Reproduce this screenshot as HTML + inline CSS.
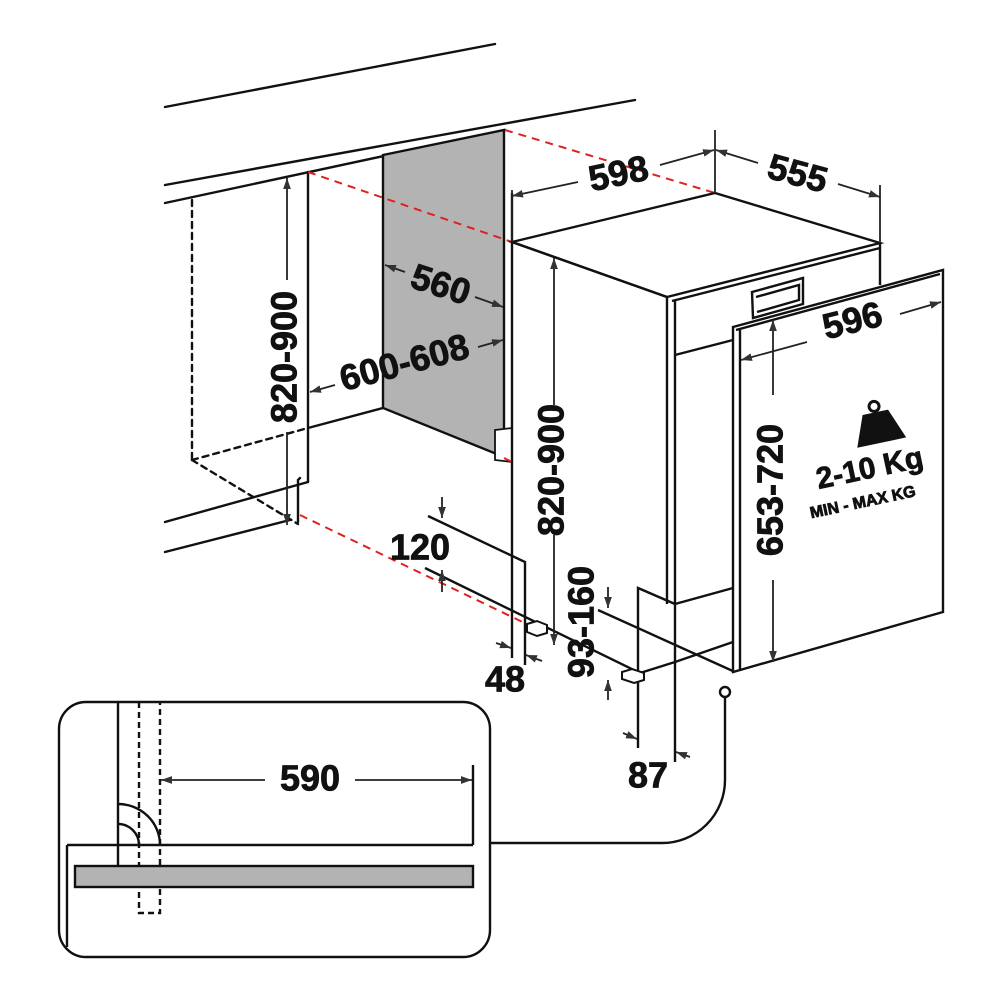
<!DOCTYPE html>
<html><head><meta charset="utf-8"><style>
html,body{margin:0;padding:0;background:#fff}
svg{display:block}
text{font-family:"Liberation Sans",sans-serif;font-weight:bold;fill:#111;stroke:#111;stroke-width:0.8}
</style></head><body>
<svg width="1000" height="1000" viewBox="0 0 1000 1000" xmlns="http://www.w3.org/2000/svg">
<defs>
<marker id="a" viewBox="0 0 10 10" refX="10" refY="5" markerWidth="11" markerHeight="11" orient="auto-start-reverse" markerUnits="userSpaceOnUse"><path d="M0,1.5 L10,5 L0,8.5 z" fill="#333"/></marker>
</defs>
<g stroke="#111" stroke-width="2.4" fill="none" stroke-linecap="round">
<line x1="165" y1="107" x2="495" y2="44"/>
<line x1="165" y1="185" x2="635" y2="100"/>
<line x1="165" y1="203" x2="505" y2="130"/>
<line x1="308" y1="172" x2="308" y2="482"/>
<line x1="165" y1="522" x2="308" y2="482"/>
<line x1="165" y1="552" x2="290" y2="520"/>
<line x1="308" y1="428" x2="383" y2="408"/>
<line x1="192" y1="200" x2="192" y2="460" stroke-dasharray="6,5"/>
<line x1="192" y1="460" x2="308" y2="428" stroke-dasharray="6,5"/>
<line x1="192" y1="460" x2="298" y2="524" stroke-dasharray="6,5"/>
<polyline points="298,522 298,480 300,478"/>
</g>
<polygon points="383,155 504,130 504,457 383,408" fill="#b3b3b3" stroke="#111" stroke-width="2.4"/>
<polygon points="495,430 512,428 512,462 495,460" fill="#fff" stroke="#111" stroke-width="1.8"/>
<g stroke="#111" stroke-width="2.4" fill="none">
<line x1="512" y1="193" x2="512" y2="658"/>
<g stroke="#d22" stroke-dasharray="8,6" stroke-width="2">
<line x1="308" y1="172" x2="512" y2="242"/>
<line x1="505" y1="130" x2="715" y2="193"/>
<line x1="300" y1="515" x2="535" y2="628"/>
<line x1="504" y1="458" x2="512" y2="462"/>
</g>
<polygon points="512,242 715,193 880,243 667,297" fill="#fff"/>
<line x1="672" y1="301" x2="880" y2="248"/>
<line x1="880" y1="243" x2="880" y2="285"/>
<line x1="667" y1="297" x2="667" y2="604"/>
<line x1="675" y1="300" x2="675" y2="604"/>
<line x1="512" y1="242" x2="667" y2="297"/>
<polygon points="752,292 803,278 803,304 753,318"/>
<polyline points="756,297 799,285 799,300 757,312"/>
<line x1="675" y1="355" x2="733" y2="340"/>
<line x1="675" y1="604" x2="733" y2="588"/>
<line x1="675" y1="662" x2="733" y2="642"/>
<polyline points="638,748 638,588 675,604"/>
<line x1="675" y1="604" x2="675" y2="762"/>
<line x1="640" y1="673" x2="675" y2="662"/>
<polyline points="428,516 525,562 525,665"/>
<line x1="425" y1="568" x2="640" y2="673"/>
<line x1="598" y1="610" x2="735" y2="672"/>
<polygon points="733,327 943,270 943,612 733,672" fill="#fff"/>
<line x1="740" y1="330" x2="740" y2="670"/>
<line x1="736" y1="330" x2="940" y2="274"/>
</g>
<g stroke="#111" stroke-width="2" fill="#fff">
<path d="M527,624 l10,-3 l10,4 l0,8 l-10,3 l-10,-4 z"/>
<path d="M622,672 l10,-3 l12,4 l0,7 l-10,3 l-12,-4 z"/>
</g>
<g stroke="#222" stroke-width="1.8" fill="none">
<line x1="287" y1="178" x2="287" y2="280" marker-start="url(#a)"/>
<line x1="287" y1="432" x2="287" y2="525" marker-end="url(#a)"/>
<line x1="405" y1="272" x2="385" y2="265" marker-end="url(#a)"/>
<line x1="475" y1="297" x2="503" y2="307" marker-end="url(#a)"/>
<line x1="335" y1="385" x2="310" y2="392" marker-end="url(#a)"/>
<line x1="478" y1="347" x2="503" y2="340" marker-end="url(#a)"/>
<line x1="512" y1="190" x2="512" y2="242"/>
<line x1="715" y1="130" x2="715" y2="193"/>
<line x1="880" y1="185" x2="880" y2="243"/>
<line x1="578" y1="182" x2="512" y2="196" marker-end="url(#a)"/>
<line x1="660" y1="165" x2="714" y2="150" marker-end="url(#a)"/>
<line x1="758" y1="163" x2="716" y2="150" marker-end="url(#a)"/>
<line x1="838" y1="184" x2="880" y2="197" marker-end="url(#a)"/>
<line x1="554" y1="405" x2="554" y2="258" marker-end="url(#a)"/>
<line x1="554" y1="535" x2="554" y2="645" marker-end="url(#a)"/>
<line x1="807" y1="342" x2="741" y2="360" marker-end="url(#a)"/>
<line x1="900" y1="314" x2="941" y2="302" marker-end="url(#a)"/>
<line x1="773" y1="395" x2="773" y2="320" marker-end="url(#a)"/>
<line x1="773" y1="580" x2="773" y2="662" marker-end="url(#a)"/>
<line x1="442" y1="497" x2="442" y2="518" marker-end="url(#a)"/>
<line x1="442" y1="592" x2="442" y2="570" marker-end="url(#a)"/>
<line x1="496" y1="643" x2="511" y2="648" marker-end="url(#a)"/>
<line x1="542" y1="661" x2="526" y2="655" marker-end="url(#a)"/>
<line x1="608" y1="587" x2="608" y2="608" marker-end="url(#a)"/>
<line x1="608" y1="700" x2="608" y2="680" marker-end="url(#a)"/>
<line x1="623" y1="733" x2="637" y2="739" marker-end="url(#a)"/>
<line x1="690" y1="757" x2="676" y2="752" marker-end="url(#a)"/>
</g>
<text x="287" y="357" font-size="36" text-anchor="middle" transform="rotate(-90 287 357)" dominant-baseline="middle">820-900</text>
<text x="440" y="287" font-size="36" text-anchor="middle" dominant-baseline="middle" transform="rotate(18 440 287)">560</text>
<text x="405" y="365" font-size="36" text-anchor="middle" dominant-baseline="middle" transform="rotate(-15 405 365)">600-608</text>
<text x="619" y="176" font-size="36" text-anchor="middle" dominant-baseline="middle" transform="rotate(-12 619 176)">598</text>
<text x="797" y="176" font-size="36" text-anchor="middle" dominant-baseline="middle" transform="rotate(15 797 176)">555</text>
<text x="554" y="470" font-size="36" text-anchor="middle" dominant-baseline="middle" transform="rotate(-90 554 470)">820-900</text>
<text x="853" y="323" font-size="36" text-anchor="middle" dominant-baseline="middle" transform="rotate(-14 853 323)">596</text>
<text x="773" y="490" font-size="36" text-anchor="middle" dominant-baseline="middle" transform="rotate(-90 773 490)">653-720</text>
<text x="870" y="470" font-size="30" text-anchor="middle" dominant-baseline="middle" transform="rotate(-12 870 470)">2-10 Kg</text>
<text x="863" y="503" font-size="16" text-anchor="middle" dominant-baseline="middle" transform="rotate(-12 863 503)">MIN - MAX KG</text>
<text x="420" y="550" font-size="36" text-anchor="middle" dominant-baseline="middle">120</text>
<text x="505" y="682" font-size="36" text-anchor="middle" dominant-baseline="middle">48</text>
<text x="584" y="622" font-size="36" text-anchor="middle" dominant-baseline="middle" transform="rotate(-90 584 622)">93-160</text>
<text x="648" y="778" font-size="36" text-anchor="middle" dominant-baseline="middle">87</text>
<g fill="#111" transform="rotate(-12 878 425)">
<circle cx="878" cy="406" r="5" fill="none" stroke="#111" stroke-width="3"/>
<path d="M865,412 L891,412 L903,443 L853,443 Z"/>
</g>
<g stroke="#111" stroke-width="2.4" fill="none">
<rect x="59" y="702" width="431" height="255" rx="27"/>
<line x1="118" y1="702" x2="118" y2="866"/>
<path d="M139,702 V913 H160 V702" stroke-dasharray="6,4"/>
<path d="M118,804 A42,41 0 0 1 160,845"/>
<path d="M118,824 A21,21 0 0 1 139,845"/>
<line x1="67" y1="845" x2="473" y2="845"/>
<line x1="67" y1="845" x2="67" y2="947"/>
<line x1="473" y1="765" x2="473" y2="845"/>
<rect x="75" y="866" width="398" height="21" fill="#b3b3b3"/>
<path d="M490,843 H662 A63,63 0 0 0 725,780 V697"/>
<circle cx="725" cy="692" r="5" fill="#fff"/>
</g>
<g stroke="#222" stroke-width="1.8">
<line x1="265" y1="780" x2="161" y2="780" marker-end="url(#a)"/>
<line x1="355" y1="780" x2="472" y2="780" marker-end="url(#a)"/>
</g>
<text x="310" y="781" font-size="36" text-anchor="middle" dominant-baseline="middle">590</text>
</svg>
</body></html>
